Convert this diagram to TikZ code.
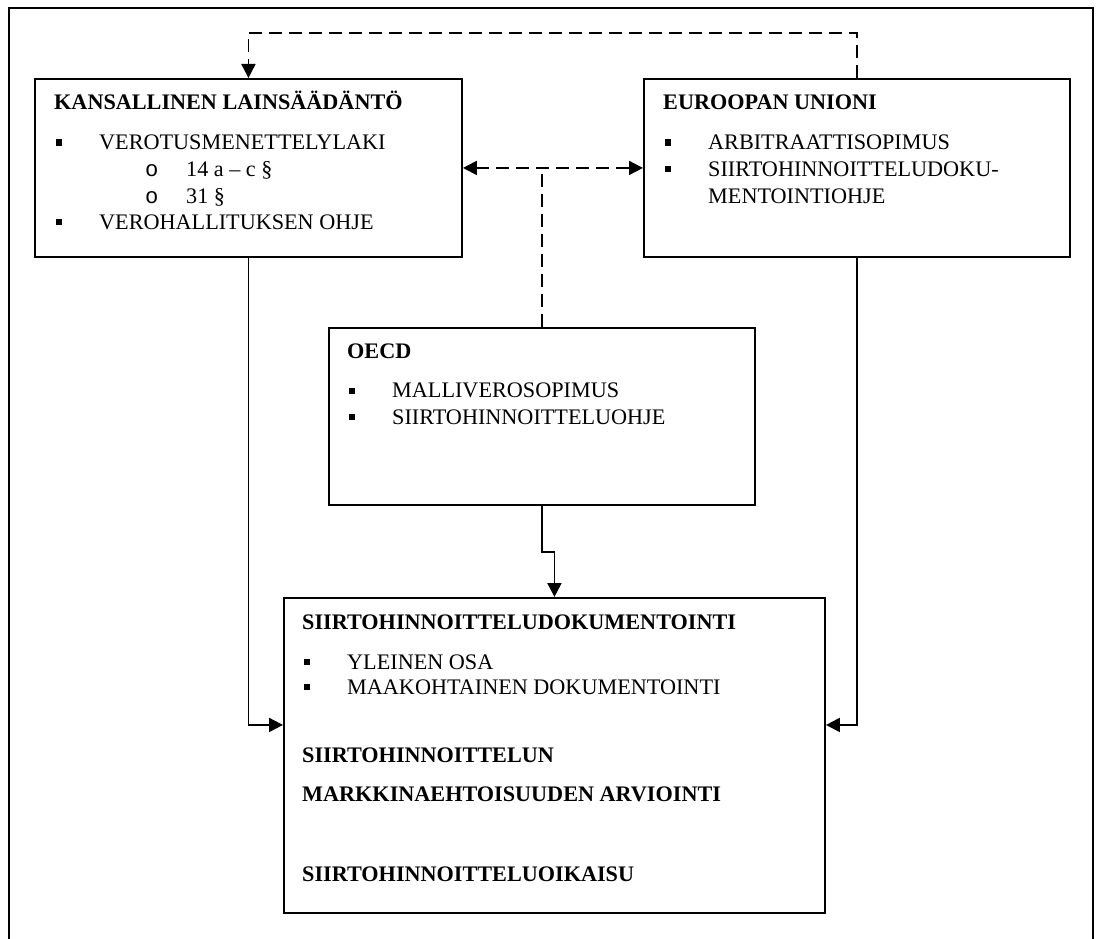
\documentclass[tikz,border=0pt]{standalone}
\usepackage{fontspec}
\setmainfont{Liberation Serif}
\newfontfamily\monofont{Liberation Mono}
\usetikzlibrary{arrows.meta}
\newcommand\sqb{\rule[3.6pt]{6.5pt}{6.5pt}}
\newcommand\itm[1]{\makebox[43.5pt][l]{\sqb}#1}
\newcommand\sub[1]{\makebox[41pt][l]{\monofont o}#1}
\begin{document}
\begin{tikzpicture}[x=1pt,y=-1pt,
  >={Triangle[length=14pt,width=14pt]},
  box/.style={draw, line width=1.9pt, inner sep=0pt, anchor=north west},
  txt/.style={anchor=base west, inner sep=0pt, font=\fontsize{22.2}{26}\selectfont},
  ttl/.style={txt, font=\fontsize{22.2}{26}\selectfont\bfseries},
  conn/.style={line width=1.9pt, ->},
  dsh/.style={line width=1.9pt, dash pattern=on 13pt off 7pt},
]
\useasboundingbox (0,0) rectangle (1100,939);
% outer frame (open at bottom)
\draw[line width=1.9pt] (9,939) -- (9,8) -- (1093,8) -- (1093,939);

% boxes
\node[box, minimum width=427pt, minimum height=178pt] (kl) at (34,78) {};
\node[box, minimum width=426pt, minimum height=178pt] (eu) at (643,78) {};
\node[box, minimum width=426pt, minimum height=177pt] (oecd) at (328,327) {};
\node[box, minimum width=541pt, minimum height=315pt] (sd) at (283,597) {};

% KL texts
\node[ttl] (klt) at (54,110) {KANSALLINEN LAINSÄÄDÄNTÖ};
\node[txt] (kl1) at (55.5,149.3) {\itm{VEROTUSMENETTELYLAKI}};
\node[txt] (kl2) at (145,176) {\sub{14 a – c §}};
\node[txt] (kl3) at (145,203) {\sub{31 §}};
\node[txt] (kl4) at (55.5,229) {\itm{VEROHALLITUKSEN OHJE}};

% EU texts
\node[ttl] (eut) at (663,110) {EUROOPAN UNIONI};
\node[txt] (eu1) at (664.5,149.3) {\itm{ARBITRAATTISOPIMUS}};
\node[txt] (eu2) at (664.5,176) {\itm{SIIRTOHINNOITTELUDOKU-}};
\node[txt] (eu3) at (708,203) {MENTOINTIOHJE};

% OECD texts
\node[ttl] (oet) at (347,358) {OECD};
\node[txt] (oe1) at (348.5,397.7) {\itm{MALLIVEROSOPIMUS}};
\node[txt] (oe2) at (348.5,424) {\itm{SIIRTOHINNOITTELUOHJE}};

% SD texts
\node[ttl] (sdt) at (302,629) {SIIRTOHINNOITTELUDOKUMENTOINTI};
\node[txt] (sd1) at (303.5,669) {\itm{YLEINEN OSA}};
\node[txt] (sd2) at (303.5,694) {\itm{MAAKOHTAINEN DOKUMENTOINTI}};
\node[ttl] (sd3) at (302,762) {SIIRTOHINNOITTELUN};
\node[ttl] (sd4) at (302,801) {MARKKINAEHTOISUUDEN ARVIOINTI};
\node[ttl] (sd5) at (302,881) {SIIRTOHINNOITTELUOIKAISU};

% dashed connectors
\draw[dsh, ->] (eu.north) -- ++(0,-45) -| (kl.north);
\draw[dsh, <->] (kl.east) -- (eu.west);
\draw[dsh] (oecd.north) -- (oecd.north |- kl.east);

% solid connectors
\draw[conn] (oecd.south) -- ++(0,46) -| (sd.north);
\draw[conn] (kl.south) |- ([yshift=30.5pt]sd.west);
\draw[conn] (eu.south) |- ([yshift=30.5pt]sd.east);
\end{tikzpicture}
\end{document}
